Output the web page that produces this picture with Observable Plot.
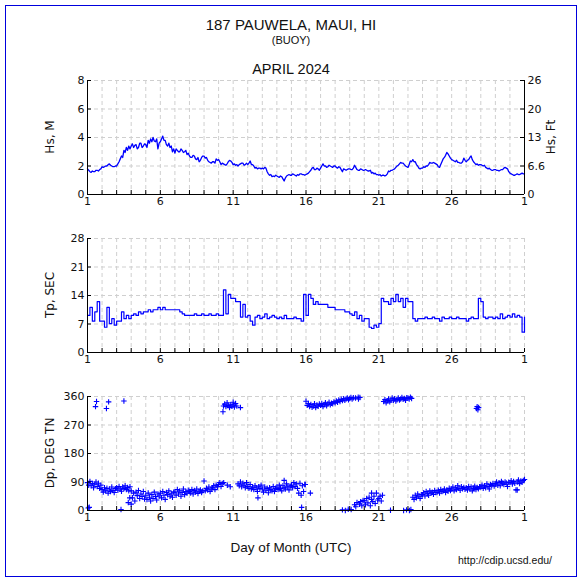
<!DOCTYPE html>
<html><head><meta charset="utf-8">
<script src="https://cdn.jsdelivr.net/npm/d3@7"></script>
<script src="https://cdn.jsdelivr.net/npm/@observablehq/plot@0.6"></script>
<style>
body{margin:0;background:#fff;}
#wrap{position:relative;width:582px;height:581px;background:#fff;overflow:hidden;font-family:"Liberation Sans",Arial,sans-serif;color:#111;}
.abs{position:absolute;}
.ctr{left:0;width:582px;text-align:center;line-height:1;white-space:nowrap;}
.rot{position:absolute;font-family:"DejaVu Sans";font-size:12px;line-height:1;white-space:nowrap;color:#111;transform:translate(-50%,-50%) rotate(-90deg);}
.panel{position:absolute;left:0;}
</style></head><body>
<div id="wrap">
  <div class="abs" style="left:5px;top:5px;width:572px;height:572px;box-sizing:border-box;border:1px solid #0000dd;"></div>
  <div class="abs ctr" style="top:17.3px;font-size:15px;">187 PAUWELA, MAUI, HI</div>
  <div class="abs ctr" style="top:34.5px;font-size:11px;">(BUOY)</div>
  <div class="abs ctr" style="top:61.7px;font-size:14.5px;">APRIL 2024</div>
  <div class="abs ctr" style="top:541px;font-size:13.5px;">Day of Month (UTC)</div>
  <div class="abs" style="left:458px;top:555px;font-size:10.5px;line-height:1;white-space:nowrap;">http://cdip.ucsd.edu/</div>
  <div class="rot" style="left:50px;top:137px;">Hs, M</div>
  <div class="rot" style="left:551px;top:137px;">Hs, Ft</div>
  <div class="rot" style="left:50px;top:295px;">Tp, SEC</div>
  <div class="rot" style="left:50px;top:453px;">Dp, DEG TN</div>
  <div id="p1" class="panel" style="top:60px;"></div>
  <div id="p2" class="panel" style="top:218px;"></div>
  <div id="p3" class="panel" style="top:376px;"></div>
</div>
<script>
// ---- tick positions / labels ----
const dayGrid = d3.range(1, 32);
const dayLabelAt = [1, 6, 11, 16, 21, 26, 31];
const dayLabels = ["1", "6", "11", "16", "21", "26", "1"];
const hsTicks = [0, 2, 4, 6, 8];
const hsLabels = ["0", "2", "4", "6", "8"];
const ftLabels = ["0", "6.6", "13", "20", "26"];
const tpTicks = [0, 7, 14, 21, 28];
const tpLabels = ["0", "7", "14", "21", "28"];
const dpTicks = [0, 90, 180, 270, 360];
const dpLabels = ["0", "90", "180", "270", "360"];

// ---- Hs (m), every 2 h from Apr 1 00:00 ----
const hsPerDay = 12;
const hsM = [
 1.8,1.7,1.6,1.55,1.65,1.6,1.6,1.7,1.7,1.65,1.75,1.8,
 1.95,1.9,1.95,2.0,2.0,2.1,2.15,2.05,2.0,1.95,1.95,2.0,
 2.0,2.15,2.3,2.5,2.7,2.6,3.1,2.95,3.3,3.1,3.4,3.2,
 3.4,3.55,3.3,3.45,3.5,3.2,3.3,3.6,3.6,3.3,3.4,3.55,
 3.5,3.3,3.8,3.6,3.9,3.7,4.0,3.75,3.7,3.9,3.2,3.6,
 3.7,3.9,4.1,3.8,3.8,3.5,3.4,3.6,3.3,3.4,3.0,3.2,
 2.9,3.2,3.1,3.0,3.0,3.2,3.1,2.95,3.0,3.1,2.8,2.9,
 2.7,2.6,2.6,2.75,2.7,2.5,2.45,2.6,2.3,2.4,2.6,2.7,
 2.7,2.55,2.6,2.4,2.3,2.25,2.2,2.3,2.3,2.2,2.5,2.4,
 2.45,2.3,2.1,2.2,2.15,2.1,2.05,2.15,2.3,2.4,2.35,2.25,
 2.1,2.15,2.05,2.1,2.0,2.1,2.15,2.2,2.2,2.05,2.1,2.2,
 2.1,2.2,2.35,2.1,2.1,2.0,1.85,1.9,1.8,1.85,1.85,1.8,
 1.85,1.8,1.9,1.85,1.6,1.45,1.35,1.4,1.25,1.3,1.25,1.35,
 1.3,1.25,1.2,1.3,1.25,1.1,0.95,1.15,1.3,1.35,1.4,1.35,
 1.35,1.45,1.4,1.35,1.3,1.4,1.35,1.45,1.45,1.4,1.4,1.35,
 1.4,1.45,1.5,1.6,1.7,1.85,1.9,1.75,1.75,1.85,1.8,1.7,
 1.85,2.0,2.15,2.0,2.0,1.9,1.95,2.05,2.0,1.95,1.9,2.0,
 2.0,1.9,1.85,1.95,1.9,1.75,1.6,1.8,1.75,1.7,1.75,1.8,
 1.8,1.75,1.75,1.85,2.05,1.9,1.75,1.7,1.7,1.8,1.75,1.7,
 1.7,1.75,1.7,1.65,1.65,1.7,1.5,1.55,1.45,1.5,1.4,1.4,
 1.35,1.4,1.3,1.35,1.35,1.3,1.35,1.45,1.65,1.6,1.7,1.7,
 1.75,1.8,1.9,2.0,2.05,2.15,2.25,2.2,2.2,2.1,2.0,1.95,
 1.9,2.1,2.35,2.3,2.45,2.3,2.3,2.1,2.0,1.85,1.8,1.85,
 1.85,1.95,1.9,2.0,2.0,2.1,2.25,2.2,2.2,2.25,2.2,2.15,
 2.1,1.95,1.9,2.1,2.3,2.5,2.6,2.75,2.95,2.85,2.7,2.55,
 2.45,2.4,2.35,2.3,2.4,2.25,2.25,2.2,2.2,2.3,2.55,2.4,
 2.3,2.4,2.45,2.6,2.7,2.45,2.3,2.2,2.1,2.15,2.05,2.1,
 2.1,2.05,2.0,2.05,1.9,1.85,1.8,1.85,1.75,1.7,1.7,1.75,
 1.75,1.7,1.7,1.65,1.7,1.75,1.75,1.85,1.9,1.85,1.8,1.6,
 1.5,1.45,1.4,1.35,1.35,1.4,1.45,1.4,1.4,1.45,1.5,1.45,
 1.45
];

// ---- Tp (s), every 4 h ----
const tpPerDay = 6;
const tpSec = [
 9.1,11.1,7.7,10,12.5,7.7,
 7.7,6.2,11.1,7.1,8.3,6.7,
 7.7,7.7,10,8.3,9.1,8.3,
 9.1,9.5,9.1,10,9.5,10,
 10,10.5,10,10.5,10.5,11.1,
 10.5,11.1,10.5,10.5,10.5,10.5,
 10.5,10.5,10,9.5,9.1,9.1,
 9.1,9.1,9.5,9.1,9.1,9.5,
 9.1,9.1,9.5,9.1,9.1,9.5,
 9.1,9.1,15.4,9.5,14.3,13.3,
 13.3,12.5,12.5,8.7,11.8,8.7,
 9.1,7.7,6.7,8.7,9.1,8.3,
 8.7,9.5,8.3,8.7,9.1,8.7,
 8.3,8.7,8.3,9.1,8.3,8.3,
 8.3,8.7,8.3,8.3,7.7,14.3,
 9.1,14.3,13.3,11.8,12.5,11.8,
 11.8,11.8,11.8,11.1,11.1,11.1,
 10.5,10.5,10.5,10.5,10,10,
 9.5,9.1,10,8.3,9.1,7.7,
 8.3,8.3,6.2,5.9,6.7,6.2,
 7.1,13.3,12.5,12.5,11.8,13.3,
 12.5,14.3,12.5,13.3,11.1,13.3,
 12.5,12.5,8.3,7.7,8.3,8.3,
 8.3,8.7,8.3,8.3,8.7,8.3,
 8.3,7.7,8.7,8.3,8.3,8.7,
 8.3,8.3,8.7,8.3,8.3,8.3,
 7.7,8.3,8.7,8.3,8.3,13.3,
 12.5,8.7,8.3,8.7,8.7,8.3,
 8.7,8.3,9.5,8.3,8.7,9.1,
 8.7,9.5,8.7,9.1,8.7,5.0,
 8.7
];

// ---- Dp (deg TN), every 2 h ----
const dpPerDay = 12;
const dpDeg = [
 88,80,92,78,85,72,83,90,76,86,70,80,
 66,58,72,62,70,55,68,60,74,63,57,69,
 72,64,76,68,61,74,70,78,66,73,62,75,
 62,40,55,30,58,47,63,38,52,44,60,36,
 48,35,55,42,30,50,38,58,44,33,52,46,
 55,40,60,48,35,57,50,62,45,53,42,58,
 58,48,66,52,62,45,57,68,50,60,55,64,
 60,55,66,52,63,58,68,54,61,65,57,62,
 93,62,70,65,74,60,68,72,78,66,80,75,
 82,88,76,85,330,336,328,340,332,325,334,329,
 333,327,338,330,84,78,90,75,86,80,72,88,
 76,70,82,68,74,66,78,72,60,75,69,80,
 68,58,74,64,70,56,72,66,62,76,60,70,
 74,66,80,70,62,78,72,68,84,74,65,77,
 80,72,88,76,84,70,55,86,48,78,60,82,
 345,332,338,328,335,326,330,337,325,333,329,336,
 332,338,328,335,340,331,336,342,334,339,337,343,
 340,346,342,349,344,351,347,353,348,352,355,350,
 354,357,352,356,18,12,25,358,20,28,15,32,
 30,18,38,24,42,15,35,28,45,22,55,33,
 38,45,30,48,344,350,340,347,352,343,348,355,
 348,353,346,350,355,349,352,357,351,354,348,356,
 355,352,358,354,42,35,48,40,52,45,38,50,
 50,56,46,60,53,48,62,55,58,51,63,57,
 58,64,55,66,60,62,68,57,65,61,70,63,
 68,74,62,72,66,78,70,64,75,69,73,67,
 72,65,76,68,74,62,70,77,66,73,69,75,
 74,80,70,78,72,84,76,68,82,79,85,77,
 84,90,80,88,78,92,86,82,90,87,76,89,
 88,94,84,92,86,65,90,96,85,93,89,95,
 98
];
// scattered extra Dp readings (day, deg)
const dpExtraDay = [1.05,1.12,1.55,1.62,2.3,2.45,3.3,3.5,3.8,3.9,4.0,10.3,10.35,10.6,10.8,11.0,11.5,12.7,14.5,15.7,15.95,16.3,18.5,18.7,18.9,19.1,19.4,19.6,19.7,20.5,21.8,22.7,22.9,23.1,23.2,27.7,27.75,27.8,27.85,30.5];
const dpExtraDeg = [8,10,328,344,322,343,3,346,25,40,20,312,88,80,75,342,325,40,95,10,82,55,2,0,4,3,355,352,357,55,1,0,2,0,3,322,328,318,325,65];

const BLUE = "#0000ff";
const hsData = hsM.map((v, i) => ({day: 1 + i / hsPerDay, v}));
const tpData = tpSec.map((v, i) => ({day: 1 + i / tpPerDay, v}));
const dpData = dpDeg.map((v, i) => ({day: 1 + i / dpPerDay, v}))
  .concat(dpExtraDay.map((d, i) => ({day: d, v: dpExtraDeg[i]})));

const xLabelMap = new Map(dayLabelAt.map((d, i) => [d, dayLabels[i]]));

function panel({yDomain, yTicks, yLabels, series, rightLabels}) {
  const lab = new Map(yTicks.map((d, i) => [d, yLabels[i]]));
  const marks = [
    Plot.ruleX(dayGrid, {stroke: "#cfcfcf", strokeDasharray: "4,3"}),
    Plot.ruleY(yTicks, {stroke: "#cfcfcf", strokeDasharray: "4,3"}),
    ...series,
    Plot.ruleX(dayGrid, {stroke: "#000", insetTop: 110}),
    Plot.ruleY(yTicks, {stroke: "#000", insetRight: 433}),
    Plot.ruleX([dayGrid[0]], {stroke: "#000"}),
    Plot.ruleY([yDomain[0]], {stroke: "#000"}),
    Plot.axisX(dayLabelAt, {tickSize: 0, tickPadding: 3, tickFormat: d => xLabelMap.get(d), label: null, fill: "#111"}),
    Plot.axisY(yTicks, {tickSize: 0, tickPadding: 3, tickFormat: d => lab.get(d), label: null, fill: "#111"})
  ];
  if (rightLabels) {
    const rl = new Map(yTicks.map((d, i) => [d, rightLabels[i]]));
    marks.push(
      Plot.ruleX([dayGrid[dayGrid.length - 1]], {stroke: "#000"}),
      Plot.ruleY(yTicks, {stroke: "#000", insetLeft: 433}),
      Plot.axisY(yTicks, {anchor: "right", tickSize: 0, tickPadding: 3, tickFormat: d => rl.get(d), label: null, fill: "#111"})
    );
  }
  return Plot.plot({
    width: 582, height: 160,
    marginLeft: 87, marginRight: 58, marginTop: 20, marginBottom: 26,
    style: {background: "transparent", fontFamily: "DejaVu Sans", fontSize: "11px", color: "#111", overflow: "visible"},
    x: {domain: [1, 31]},
    y: {domain: yDomain},
    marks
  });
}

document.getElementById("p1").append(panel({
  yDomain: [0, 8], yTicks: hsTicks, yLabels: hsLabels, rightLabels: ftLabels,
  series: [Plot.line(hsData, {x: "day", y: "v", stroke: BLUE, strokeWidth: 1.3})]
}));
document.getElementById("p2").append(panel({
  yDomain: [0, 28], yTicks: tpTicks, yLabels: tpLabels,
  series: [Plot.line(tpData, {x: "day", y: "v", stroke: BLUE, strokeWidth: 1.2, curve: "step-after"})]
}));
document.getElementById("p3").append(panel({
  yDomain: [0, 360], yTicks: dpTicks, yLabels: dpLabels,
  series: [Plot.dot(dpData, {x: "day", y: "v", symbol: "plus", r: 1.9, stroke: BLUE, strokeWidth: 1.1})]
}));
</script>
</body></html>
